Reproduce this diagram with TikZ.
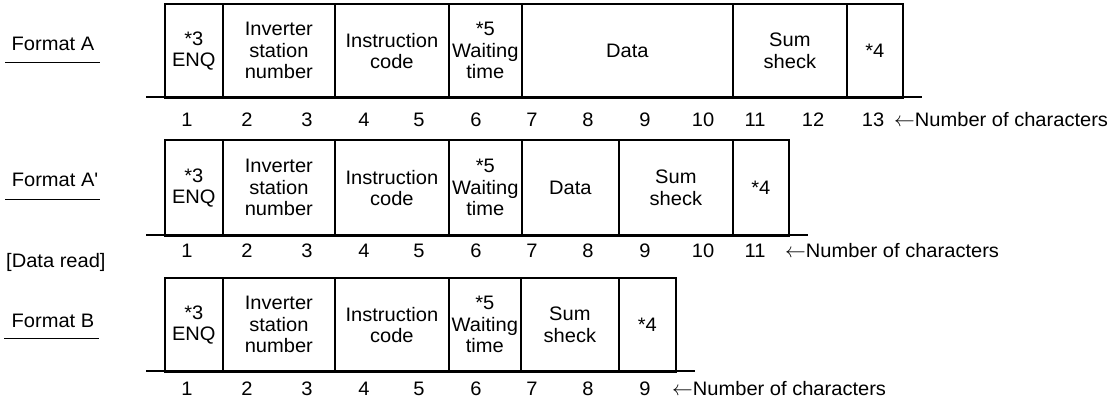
\documentclass[tikz,border=0pt]{standalone}
\usepackage{fontspec}
\setmainfont{Liberation Sans}[FakeStretch=1.03]
\begin{document}
\begin{tikzpicture}[x=1pt,y=-1pt,
  every node/.style={font=\fontsize{19.5}{21.5}\selectfont, inner sep=0pt},
  cell/.style={draw, line width=1.7pt, anchor=north west, align=center},
  rule/.style={line width=1.7pt},
  uline/.style={line width=0.9pt},
  num/.style={anchor=center},
  note/.style={anchor=west}]
\useasboundingbox (0,0) rectangle (1118,400);

% ---------- Format A ----------
\node (fa) at (53,44) {Format A};
\coordinate (faL) at (5,62); \coordinate (faR) at (100,62);
\draw[uline] (faL) -- (faR);
\node[cell, minimum width=58,  minimum height=94] (a1) at (164,3) {*3\\ENQ};
\node[cell, minimum width=112, minimum height=94] (a2) at (222,3) {Inverter\\station\\number};
\node[cell, minimum width=114, minimum height=94] (a3) at (334,3) {Instruction\\code};
\node[cell, minimum width=73,  minimum height=94] (a4) at (448,3) {*5\\Waiting\\time};
\node[cell, minimum width=211, minimum height=94] (a5) at (521,3) {Data};
\node[cell, minimum width=114, minimum height=94] (a6) at (732,3) {Sum\\sheck};
\node[cell, minimum width=56,  minimum height=94] (a7) at (846,3) {*4};
\coordinate (aL) at (146,97); \coordinate (aR) at (922,97);
\draw[rule] (aL) -- (aR);
\foreach \n/\x in {1/187,2/247,3/307,4/364,5/419,6/476,7/532,8/588,9/645,10/703,11/755,12/813,13/873}
  \node[num] (an\n) at (\x,120) {\n};
\node[note] (anote) at (894,120) {$\leftarrow$Number of characters};

% ---------- Format A' ----------
\node (fb) at (55,180) {Format A\textquotesingle};
\coordinate (fbL) at (5,199); \coordinate (fbR) at (100,199);
\draw[uline] (fbL) -- (fbR);
\node[cell, minimum width=58,  minimum height=96] (b1) at (164,139) {*3\\ENQ};
\node[cell, minimum width=112, minimum height=96] (b2) at (222,139) {Inverter\\station\\number};
\node[cell, minimum width=114, minimum height=96] (b3) at (334,139) {Instruction\\code};
\node[cell, minimum width=73,  minimum height=96] (b4) at (448,139) {*5\\Waiting\\time};
\node[cell, minimum width=97,  minimum height=96] (b5) at (521,139) {Data};
\node[cell, minimum width=114, minimum height=96] (b6) at (618,139) {Sum\\sheck};
\node[cell, minimum width=56,  minimum height=96] (b7) at (732,139) {*4};
\coordinate (bL) at (146,235); \coordinate (bR) at (808,235);
\draw[rule] (bL) -- (bR);
\foreach \n/\x in {1/187,2/247,3/307,4/364,5/419,6/476,7/532,8/588,9/645,10/703,11/755}
  \node[num] (bn\n) at (\x,251) {\n};
\node[note] (bnote) at (785,251) {$\leftarrow$Number of characters};
\node[note] (dread) at (6,262) {[Data read]};

% ---------- Format B ----------
\node (fc) at (53,321) {Format B};
\coordinate (fcL) at (4,338); \coordinate (fcR) at (99,338);
\draw[uline] (fcL) -- (fcR);
\node[cell, minimum width=58,  minimum height=94] (c1) at (164,277) {*3\\ENQ};
\node[cell, minimum width=112, minimum height=94] (c2) at (222,277) {Inverter\\station\\number};
\node[cell, minimum width=114, minimum height=94] (c3) at (334,277) {Instruction\\code};
\node[cell, minimum width=72,  minimum height=94] (c4) at (448,277) {*5\\Waiting\\time};
\node[cell, minimum width=98,  minimum height=94] (c5) at (520,277) {Sum\\sheck};
\node[cell, minimum width=57,  minimum height=94] (c6) at (618,277) {*4};
\coordinate (cL) at (146,371); \coordinate (cR) at (695,371);
\draw[rule] (cL) -- (cR);
\foreach \n/\x in {1/187,2/247,3/307,4/364,5/419,6/476,7/532,8/588,9/645}
  \node[num] (cn\n) at (\x,389) {\n};
\node[note] (cnote) at (672,389) {$\leftarrow$Number of characters};
\end{tikzpicture}
\end{document}
